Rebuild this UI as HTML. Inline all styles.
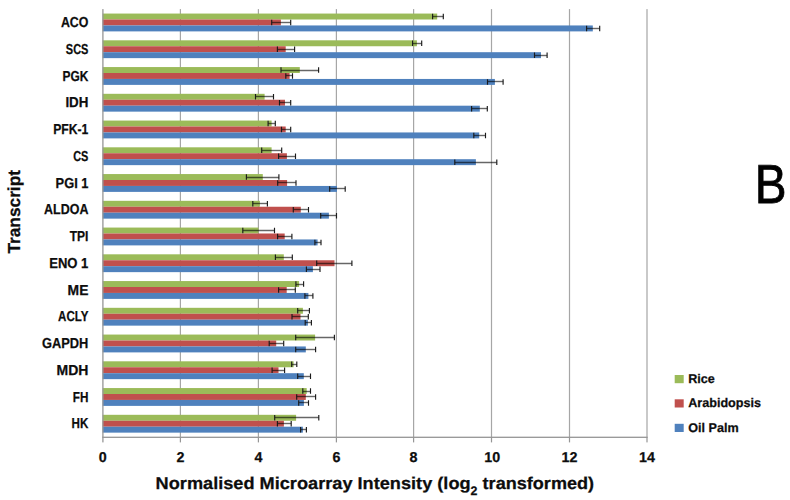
<!DOCTYPE html><html><head><meta charset="utf-8"><style>html,body{margin:0;padding:0;background:#fff;}svg{display:block;}text{font-family:"Liberation Sans",sans-serif;font-weight:bold;fill:#0d0d0d;stroke:#0d0d0d;stroke-width:0.25;text-rendering:geometricPrecision;}</style></head><body>
<svg width="790" height="500" viewBox="0 0 790 500">
<rect width="790" height="500" fill="#fff"/>
<rect x="179.8" y="9.1" width="1.2" height="428" fill="#a6a6a6"/>
<rect x="257.8" y="9.1" width="1.2" height="428" fill="#a6a6a6"/>
<rect x="335.8" y="9.1" width="1.2" height="428" fill="#a6a6a6"/>
<rect x="413" y="9.1" width="1.2" height="428" fill="#a6a6a6"/>
<rect x="490.9" y="9.1" width="1.2" height="428" fill="#a6a6a6"/>
<rect x="568.9" y="9.1" width="1.2" height="428" fill="#a6a6a6"/>
<rect x="646.4" y="9.1" width="1.2" height="428" fill="#a6a6a6"/>
<rect x="102.6" y="13.56" width="334.6" height="5.94" fill="#9BBB59"/>
<rect x="102.6" y="19.5" width="178.3" height="5.94" fill="#C0504D"/>
<rect x="102.6" y="25.45" width="490.2" height="5.94" fill="#4F81BD"/>
<rect x="102.6" y="40.31" width="314.3" height="5.94" fill="#9BBB59"/>
<rect x="102.6" y="46.25" width="183.1" height="5.94" fill="#C0504D"/>
<rect x="102.6" y="52.2" width="438.4" height="5.94" fill="#4F81BD"/>
<rect x="102.6" y="67.06" width="197.2" height="5.94" fill="#9BBB59"/>
<rect x="102.6" y="73" width="187" height="5.94" fill="#C0504D"/>
<rect x="102.6" y="78.95" width="392.3" height="5.94" fill="#4F81BD"/>
<rect x="102.6" y="93.81" width="162" height="5.94" fill="#9BBB59"/>
<rect x="102.6" y="99.75" width="182.4" height="5.94" fill="#C0504D"/>
<rect x="102.6" y="105.7" width="377.2" height="5.94" fill="#4F81BD"/>
<rect x="102.6" y="120.56" width="169" height="5.94" fill="#9BBB59"/>
<rect x="102.6" y="126.5" width="183.1" height="5.94" fill="#C0504D"/>
<rect x="102.6" y="132.45" width="376.6" height="5.94" fill="#4F81BD"/>
<rect x="102.6" y="147.31" width="169" height="5.94" fill="#9BBB59"/>
<rect x="102.6" y="153.25" width="184.3" height="5.94" fill="#C0504D"/>
<rect x="102.6" y="159.2" width="373.3" height="5.94" fill="#4F81BD"/>
<rect x="102.6" y="174.06" width="160.2" height="5.94" fill="#9BBB59"/>
<rect x="102.6" y="180" width="184.5" height="5.94" fill="#C0504D"/>
<rect x="102.6" y="185.95" width="234.4" height="5.94" fill="#4F81BD"/>
<rect x="102.6" y="200.81" width="157.3" height="5.94" fill="#9BBB59"/>
<rect x="102.6" y="206.75" width="198.2" height="5.94" fill="#C0504D"/>
<rect x="102.6" y="212.7" width="226.3" height="5.94" fill="#4F81BD"/>
<rect x="102.6" y="227.56" width="155.9" height="5.94" fill="#9BBB59"/>
<rect x="102.6" y="233.5" width="182.1" height="5.94" fill="#C0504D"/>
<rect x="102.6" y="239.45" width="215" height="5.94" fill="#4F81BD"/>
<rect x="102.6" y="254.31" width="181.2" height="5.94" fill="#9BBB59"/>
<rect x="102.6" y="260.25" width="231.9" height="5.94" fill="#C0504D"/>
<rect x="102.6" y="266.2" width="210.3" height="5.94" fill="#4F81BD"/>
<rect x="102.6" y="281.06" width="196.5" height="5.94" fill="#9BBB59"/>
<rect x="102.6" y="287" width="184.1" height="5.94" fill="#C0504D"/>
<rect x="102.6" y="292.95" width="205.8" height="5.94" fill="#4F81BD"/>
<rect x="102.6" y="307.81" width="200.3" height="5.94" fill="#9BBB59"/>
<rect x="102.6" y="313.75" width="197.9" height="5.94" fill="#C0504D"/>
<rect x="102.6" y="319.7" width="205.3" height="5.94" fill="#4F81BD"/>
<rect x="102.6" y="334.56" width="212.5" height="5.94" fill="#9BBB59"/>
<rect x="102.6" y="340.5" width="173.6" height="5.94" fill="#C0504D"/>
<rect x="102.6" y="346.45" width="203.2" height="5.94" fill="#4F81BD"/>
<rect x="102.6" y="361.31" width="191" height="5.94" fill="#9BBB59"/>
<rect x="102.6" y="367.25" width="175.9" height="5.94" fill="#C0504D"/>
<rect x="102.6" y="373.2" width="201.2" height="5.94" fill="#4F81BD"/>
<rect x="102.6" y="388.06" width="204.1" height="5.94" fill="#9BBB59"/>
<rect x="102.6" y="394" width="203.2" height="5.94" fill="#C0504D"/>
<rect x="102.6" y="399.95" width="201.3" height="5.94" fill="#4F81BD"/>
<rect x="102.6" y="414.81" width="193.5" height="5.94" fill="#9BBB59"/>
<rect x="102.6" y="420.75" width="181.3" height="5.94" fill="#C0504D"/>
<rect x="102.6" y="426.7" width="200.3" height="5.94" fill="#4F81BD"/>
<path d="M432.6 16.5H443.3" stroke="#000" stroke-opacity="0.6" stroke-width="1.4" fill="none"/>
<path d="M432.6 13.76V19.3M443.3 13.76V19.3" stroke="#1a1a1a" stroke-width="1.15" fill="none"/>
<path d="M271.7 22.5H290.7" stroke="#000" stroke-opacity="0.6" stroke-width="1.4" fill="none"/>
<path d="M271.7 19.7V25.25M290.7 19.7V25.25" stroke="#1a1a1a" stroke-width="1.15" fill="none"/>
<path d="M586.6 28.5H599.7" stroke="#000" stroke-opacity="0.6" stroke-width="1.4" fill="none"/>
<path d="M586.6 25.65V31.19M599.7 25.65V31.19" stroke="#1a1a1a" stroke-width="1.15" fill="none"/>
<path d="M412.6 43.5H421.7" stroke="#000" stroke-opacity="0.6" stroke-width="1.4" fill="none"/>
<path d="M412.6 40.51V46.05M421.7 40.51V46.05" stroke="#1a1a1a" stroke-width="1.15" fill="none"/>
<path d="M277.4 49.5H294.6" stroke="#000" stroke-opacity="0.6" stroke-width="1.4" fill="none"/>
<path d="M277.4 46.45V52M294.6 46.45V52" stroke="#1a1a1a" stroke-width="1.15" fill="none"/>
<path d="M534.5 55.5H547.1" stroke="#000" stroke-opacity="0.6" stroke-width="1.4" fill="none"/>
<path d="M534.5 52.4V57.94M547.1 52.4V57.94" stroke="#1a1a1a" stroke-width="1.15" fill="none"/>
<path d="M281 70.5H318.6" stroke="#000" stroke-opacity="0.6" stroke-width="1.4" fill="none"/>
<path d="M281 67.26V72.8M318.6 67.26V72.8" stroke="#1a1a1a" stroke-width="1.15" fill="none"/>
<path d="M285.8 75.5H292.5" stroke="#000" stroke-opacity="0.6" stroke-width="1.4" fill="none"/>
<path d="M285.8 73.2V78.75M292.5 73.2V78.75" stroke="#1a1a1a" stroke-width="1.15" fill="none"/>
<path d="M487.5 81.5H503.1" stroke="#000" stroke-opacity="0.6" stroke-width="1.4" fill="none"/>
<path d="M487.5 79.15V84.69M503.1 79.15V84.69" stroke="#1a1a1a" stroke-width="1.15" fill="none"/>
<path d="M255.5 96.5H273.5" stroke="#000" stroke-opacity="0.6" stroke-width="1.4" fill="none"/>
<path d="M255.5 94.01V99.55M273.5 94.01V99.55" stroke="#1a1a1a" stroke-width="1.15" fill="none"/>
<path d="M279.5 102.5H290.7" stroke="#000" stroke-opacity="0.6" stroke-width="1.4" fill="none"/>
<path d="M279.5 99.95V105.5M290.7 99.95V105.5" stroke="#1a1a1a" stroke-width="1.15" fill="none"/>
<path d="M471.6 108.5H487.3" stroke="#000" stroke-opacity="0.6" stroke-width="1.4" fill="none"/>
<path d="M471.6 105.9V111.44M487.3 105.9V111.44" stroke="#1a1a1a" stroke-width="1.15" fill="none"/>
<path d="M268.1 123.5H275.3" stroke="#000" stroke-opacity="0.6" stroke-width="1.4" fill="none"/>
<path d="M268.1 120.76V126.3M275.3 120.76V126.3" stroke="#1a1a1a" stroke-width="1.15" fill="none"/>
<path d="M281.5 129.5H290.7" stroke="#000" stroke-opacity="0.6" stroke-width="1.4" fill="none"/>
<path d="M281.5 126.7V132.25M290.7 126.7V132.25" stroke="#1a1a1a" stroke-width="1.15" fill="none"/>
<path d="M473.8 135.5H485.5" stroke="#000" stroke-opacity="0.6" stroke-width="1.4" fill="none"/>
<path d="M473.8 132.65V138.19M485.5 132.65V138.19" stroke="#1a1a1a" stroke-width="1.15" fill="none"/>
<path d="M261.7 150.5H281.7" stroke="#000" stroke-opacity="0.6" stroke-width="1.4" fill="none"/>
<path d="M261.7 147.51V153.05M281.7 147.51V153.05" stroke="#1a1a1a" stroke-width="1.15" fill="none"/>
<path d="M278.6 156.5H295.5" stroke="#000" stroke-opacity="0.6" stroke-width="1.4" fill="none"/>
<path d="M278.6 153.45V159M295.5 153.45V159" stroke="#1a1a1a" stroke-width="1.15" fill="none"/>
<path d="M454.8 162.5H496.8" stroke="#000" stroke-opacity="0.6" stroke-width="1.4" fill="none"/>
<path d="M454.8 159.4V164.94M496.8 159.4V164.94" stroke="#1a1a1a" stroke-width="1.15" fill="none"/>
<path d="M246.4 177.5H278.9" stroke="#000" stroke-opacity="0.6" stroke-width="1.4" fill="none"/>
<path d="M246.4 174.26V179.8M278.9 174.26V179.8" stroke="#1a1a1a" stroke-width="1.15" fill="none"/>
<path d="M277.7 182.5H296" stroke="#000" stroke-opacity="0.6" stroke-width="1.4" fill="none"/>
<path d="M277.7 180.2V185.75M296 180.2V185.75" stroke="#1a1a1a" stroke-width="1.15" fill="none"/>
<path d="M329.7 188.5H345.2" stroke="#000" stroke-opacity="0.6" stroke-width="1.4" fill="none"/>
<path d="M329.7 186.15V191.69M345.2 186.15V191.69" stroke="#1a1a1a" stroke-width="1.15" fill="none"/>
<path d="M252.8 203.5H267.4" stroke="#000" stroke-opacity="0.6" stroke-width="1.4" fill="none"/>
<path d="M252.8 201.01V206.55M267.4 201.01V206.55" stroke="#1a1a1a" stroke-width="1.15" fill="none"/>
<path d="M293.3 209.5H308.5" stroke="#000" stroke-opacity="0.6" stroke-width="1.4" fill="none"/>
<path d="M293.3 206.95V212.5M308.5 206.95V212.5" stroke="#1a1a1a" stroke-width="1.15" fill="none"/>
<path d="M320.7 215.5H336.5" stroke="#000" stroke-opacity="0.6" stroke-width="1.4" fill="none"/>
<path d="M320.7 212.9V218.44M336.5 212.9V218.44" stroke="#1a1a1a" stroke-width="1.15" fill="none"/>
<path d="M242.8 230.5H274.5" stroke="#000" stroke-opacity="0.6" stroke-width="1.4" fill="none"/>
<path d="M242.8 227.76V233.3M274.5 227.76V233.3" stroke="#1a1a1a" stroke-width="1.15" fill="none"/>
<path d="M277.6 236.5H291.9" stroke="#000" stroke-opacity="0.6" stroke-width="1.4" fill="none"/>
<path d="M277.6 233.7V239.25M291.9 233.7V239.25" stroke="#1a1a1a" stroke-width="1.15" fill="none"/>
<path d="M314.9 242.5H321" stroke="#000" stroke-opacity="0.6" stroke-width="1.4" fill="none"/>
<path d="M314.9 239.65V245.19M321 239.65V245.19" stroke="#1a1a1a" stroke-width="1.15" fill="none"/>
<path d="M275.4 257.5H292.3" stroke="#000" stroke-opacity="0.6" stroke-width="1.4" fill="none"/>
<path d="M275.4 254.51V260.05M292.3 254.51V260.05" stroke="#1a1a1a" stroke-width="1.15" fill="none"/>
<path d="M316.7 263.5H351.9" stroke="#000" stroke-opacity="0.6" stroke-width="1.4" fill="none"/>
<path d="M316.7 260.45V266M351.9 260.45V266" stroke="#1a1a1a" stroke-width="1.15" fill="none"/>
<path d="M306.4 269.5H320" stroke="#000" stroke-opacity="0.6" stroke-width="1.4" fill="none"/>
<path d="M306.4 266.4V271.94M320 266.4V271.94" stroke="#1a1a1a" stroke-width="1.15" fill="none"/>
<path d="M295.9 284.5H303.6" stroke="#000" stroke-opacity="0.6" stroke-width="1.4" fill="none"/>
<path d="M295.9 281.26V286.8M303.6 281.26V286.8" stroke="#1a1a1a" stroke-width="1.15" fill="none"/>
<path d="M278.6 289.5H295.3" stroke="#000" stroke-opacity="0.6" stroke-width="1.4" fill="none"/>
<path d="M278.6 287.2V292.75M295.3 287.2V292.75" stroke="#1a1a1a" stroke-width="1.15" fill="none"/>
<path d="M304.9 295.5H312.9" stroke="#000" stroke-opacity="0.6" stroke-width="1.4" fill="none"/>
<path d="M304.9 293.15V298.69M312.9 293.15V298.69" stroke="#1a1a1a" stroke-width="1.15" fill="none"/>
<path d="M297.7 310.5H309.4" stroke="#000" stroke-opacity="0.6" stroke-width="1.4" fill="none"/>
<path d="M297.7 308.01V313.55M309.4 308.01V313.55" stroke="#1a1a1a" stroke-width="1.15" fill="none"/>
<path d="M292 316.5H308.3" stroke="#000" stroke-opacity="0.6" stroke-width="1.4" fill="none"/>
<path d="M292 313.95V319.5M308.3 313.95V319.5" stroke="#1a1a1a" stroke-width="1.15" fill="none"/>
<path d="M305.2 322.5H311.4" stroke="#000" stroke-opacity="0.6" stroke-width="1.4" fill="none"/>
<path d="M305.2 319.9V325.44M311.4 319.9V325.44" stroke="#1a1a1a" stroke-width="1.15" fill="none"/>
<path d="M295.7 337.5H334.4" stroke="#000" stroke-opacity="0.6" stroke-width="1.4" fill="none"/>
<path d="M295.7 334.76V340.3M334.4 334.76V340.3" stroke="#1a1a1a" stroke-width="1.15" fill="none"/>
<path d="M269.2 343.5H283.7" stroke="#000" stroke-opacity="0.6" stroke-width="1.4" fill="none"/>
<path d="M269.2 340.7V346.25M283.7 340.7V346.25" stroke="#1a1a1a" stroke-width="1.15" fill="none"/>
<path d="M295.7 349.5H315.6" stroke="#000" stroke-opacity="0.6" stroke-width="1.4" fill="none"/>
<path d="M295.7 346.65V352.19M315.6 346.65V352.19" stroke="#1a1a1a" stroke-width="1.15" fill="none"/>
<path d="M291.7 364.5H296.8" stroke="#000" stroke-opacity="0.6" stroke-width="1.4" fill="none"/>
<path d="M291.7 361.51V367.05M296.8 361.51V367.05" stroke="#1a1a1a" stroke-width="1.15" fill="none"/>
<path d="M272.1 370.5H284.6" stroke="#000" stroke-opacity="0.6" stroke-width="1.4" fill="none"/>
<path d="M272.1 367.45V373M284.6 367.45V373" stroke="#1a1a1a" stroke-width="1.15" fill="none"/>
<path d="M297.7 376.5H310.5" stroke="#000" stroke-opacity="0.6" stroke-width="1.4" fill="none"/>
<path d="M297.7 373.4V378.94M310.5 373.4V378.94" stroke="#1a1a1a" stroke-width="1.15" fill="none"/>
<path d="M302.8 391.5H310.5" stroke="#000" stroke-opacity="0.6" stroke-width="1.4" fill="none"/>
<path d="M302.8 388.26V393.8M310.5 388.26V393.8" stroke="#1a1a1a" stroke-width="1.15" fill="none"/>
<path d="M296.7 396.5H315.6" stroke="#000" stroke-opacity="0.6" stroke-width="1.4" fill="none"/>
<path d="M296.7 394.2V399.75M315.6 394.2V399.75" stroke="#1a1a1a" stroke-width="1.15" fill="none"/>
<path d="M298.7 402.5H308.5" stroke="#000" stroke-opacity="0.6" stroke-width="1.4" fill="none"/>
<path d="M298.7 400.15V405.69M308.5 400.15V405.69" stroke="#1a1a1a" stroke-width="1.15" fill="none"/>
<path d="M274.7 417.5H318.8" stroke="#000" stroke-opacity="0.6" stroke-width="1.4" fill="none"/>
<path d="M274.7 415.01V420.55M318.8 415.01V420.55" stroke="#1a1a1a" stroke-width="1.15" fill="none"/>
<path d="M277.4 423.5H291.2" stroke="#000" stroke-opacity="0.6" stroke-width="1.4" fill="none"/>
<path d="M277.4 420.95V426.5M291.2 420.95V426.5" stroke="#1a1a1a" stroke-width="1.15" fill="none"/>
<path d="M300.6 429.5H306.4" stroke="#000" stroke-opacity="0.6" stroke-width="1.4" fill="none"/>
<path d="M300.6 426.9V432.44M306.4 426.9V432.44" stroke="#1a1a1a" stroke-width="1.15" fill="none"/>
<rect x="102.25" y="9.1" width="1.3" height="433.3" fill="#969696"/>
<rect x="102.25" y="436.65" width="545.35" height="1.3" fill="#969696"/>
<rect x="179.8" y="437" width="1.2" height="5.4" fill="#969696"/>
<rect x="257.8" y="437" width="1.2" height="5.4" fill="#969696"/>
<rect x="335.8" y="437" width="1.2" height="5.4" fill="#969696"/>
<rect x="413" y="437" width="1.2" height="5.4" fill="#969696"/>
<rect x="490.9" y="437" width="1.2" height="5.4" fill="#969696"/>
<rect x="568.9" y="437" width="1.2" height="5.4" fill="#969696"/>
<rect x="646.4" y="437" width="1.2" height="5.4" fill="#969696"/>
<text x="60.9" y="27.03" font-size="14.4" textLength="27.5" lengthAdjust="spacingAndGlyphs">ACO</text>
<text x="65.8" y="53.77" font-size="14.4" textLength="22.6" lengthAdjust="spacingAndGlyphs">SCS</text>
<text x="62.5" y="80.52" font-size="14.4" textLength="25.9" lengthAdjust="spacingAndGlyphs">PGK</text>
<text x="65.4" y="107.27" font-size="14.4" textLength="23" lengthAdjust="spacingAndGlyphs">IDH</text>
<text x="53.2" y="134.03" font-size="14.4" textLength="35.2" lengthAdjust="spacingAndGlyphs">PFK-1</text>
<text x="73.2" y="160.78" font-size="14.4" textLength="15.2" lengthAdjust="spacingAndGlyphs">CS</text>
<text x="55.6" y="187.53" font-size="14.4" textLength="32.8" lengthAdjust="spacingAndGlyphs">PGI 1</text>
<text x="44.1" y="214.28" font-size="14.4" textLength="44.3" lengthAdjust="spacingAndGlyphs">ALDOA</text>
<text x="69.7" y="241.03" font-size="14.4" textLength="18.7" lengthAdjust="spacingAndGlyphs">TPI</text>
<text x="49.2" y="267.78" font-size="14.4" textLength="39.2" lengthAdjust="spacingAndGlyphs">ENO 1</text>
<text x="67.6" y="294.53" font-size="14.4" textLength="20.8" lengthAdjust="spacingAndGlyphs">ME</text>
<text x="58.1" y="321.28" font-size="14.4" textLength="30.3" lengthAdjust="spacingAndGlyphs">ACLY</text>
<text x="42.1" y="348.03" font-size="14.4" textLength="46.3" lengthAdjust="spacingAndGlyphs">GAPDH</text>
<text x="56.5" y="374.78" font-size="14.4" textLength="31.9" lengthAdjust="spacingAndGlyphs">MDH</text>
<text x="72.8" y="401.53" font-size="14.4" textLength="15.6" lengthAdjust="spacingAndGlyphs">FH</text>
<text x="71.6" y="428.28" font-size="14.4" textLength="16.8" lengthAdjust="spacingAndGlyphs">HK</text>
<text x="102.75" y="461.9" font-size="14.3" text-anchor="middle">0</text>
<text x="180.5" y="461.9" font-size="14.3" text-anchor="middle">2</text>
<text x="258.5" y="461.9" font-size="14.3" text-anchor="middle">4</text>
<text x="336.4" y="461.9" font-size="14.3" text-anchor="middle">6</text>
<text x="413.6" y="461.9" font-size="14.3" text-anchor="middle">8</text>
<text x="492.2" y="461.9" font-size="14.3" text-anchor="middle">10</text>
<text x="569.5" y="461.9" font-size="14.3" text-anchor="middle">12</text>
<text x="647" y="461.9" font-size="14.3" text-anchor="middle">14</text>
<text x="155.6" y="489.3" font-size="17" textLength="315" lengthAdjust="spacingAndGlyphs">Normalised Microarray Intensity (log</text>
<text x="470.6" y="494.6" font-size="12.4">2</text>
<text x="482.6" y="489.3" font-size="17" textLength="111.5" lengthAdjust="spacingAndGlyphs">transformed)</text>
<text transform="translate(20.1,253.6) rotate(-90)" font-size="17.4" textLength="83.6" lengthAdjust="spacingAndGlyphs">Transcript</text>
<text x="754.8" y="202.5" font-size="55" style="font-weight:normal;fill:#000;stroke:#000;stroke-width:0.8" textLength="31.8" lengthAdjust="spacingAndGlyphs">B</text>
<rect x="674.7" y="375" width="9" height="8.2" fill="#9BBB59"/>
<text x="688.2" y="382.7" font-size="12.6">Rice</text>
<rect x="674.7" y="399.3" width="9" height="8.2" fill="#C0504D"/>
<text x="688.2" y="406.9" font-size="12.6">Arabidopsis</text>
<rect x="674.7" y="423.8" width="9" height="8.2" fill="#4F81BD"/>
<text x="688.2" y="431.7" font-size="12.6">Oil Palm</text>
</svg></body></html>
